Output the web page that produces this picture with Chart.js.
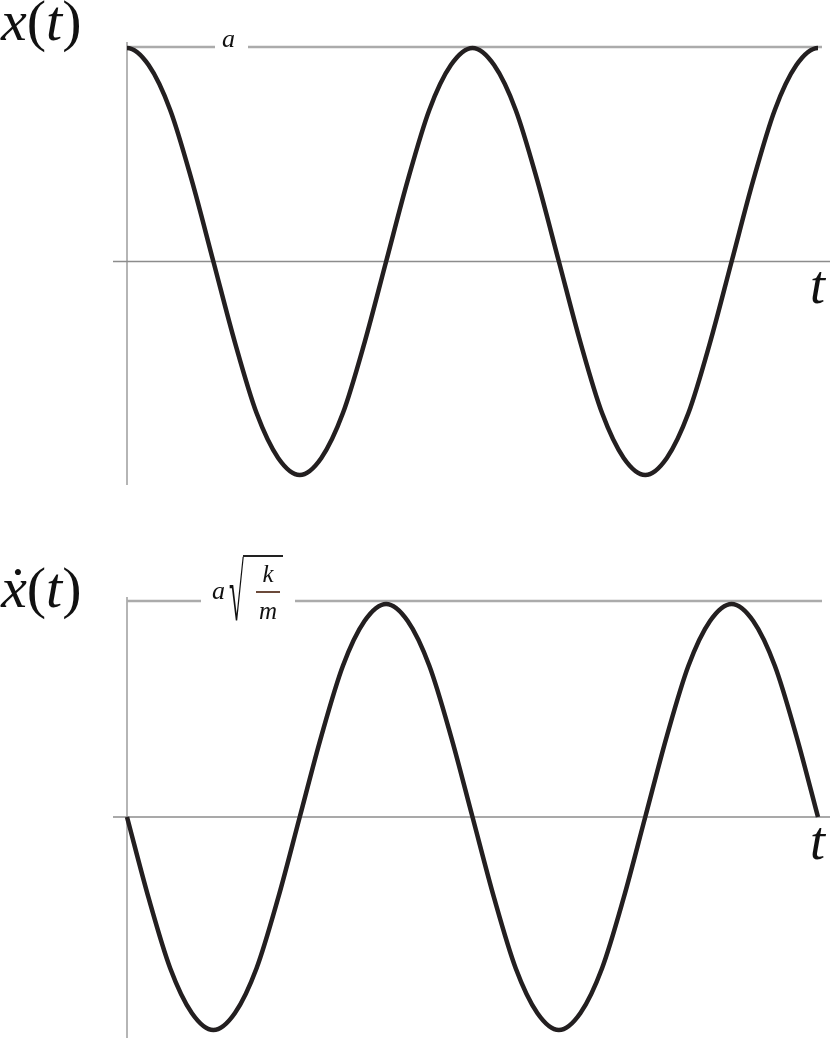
<!DOCTYPE html>
<html>
<head>
<meta charset="utf-8">
<script src="https://cdn.jsdelivr.net/npm/chart.js@4"></script>
<style>
  body { margin: 0; background: #fff; }
  #wrap { position: relative; width: 830px; height: 1040px; overflow: hidden; }
  canvas { position: absolute; left: 0; }
  .lbl { position: absolute; font-family: "Liberation Serif", "DejaVu Serif", serif; color: #111; line-height: 1; white-space: nowrap; }
  .it { font-style: italic; }
  .rule { position: absolute; }
</style>
</head>
<body>
<div id="wrap">
  <canvas id="chartPos" width="830" height="520" style="top:0"></canvas>
  <canvas id="chartVel" width="830" height="520" style="top:520px"></canvas>

  <!-- gráfico de posición -->
  <div class="lbl" style="left:1px; top:-8px; font-size:58px;"><span class="it">x</span>(<span class="it">t</span>)</div>
  <div class="lbl it" style="left:810px; top:258px; font-size:54px;">t</div>
  <div class="lbl it" style="left:222px; top:26px; font-size:26px;">a</div>

  <!-- gráfico de velocidad -->
  <div class="lbl" style="left:1px; top:559px; font-size:58px;"><span class="it">x&#775;</span>(<span class="it">t</span>)</div>
  <div class="lbl it" style="left:810px; top:814px; font-size:54px;">t</div>
  <div class="lbl it" style="left:212px; top:578px; font-size:26px;">a</div>
  <div class="lbl" style="left:229px; top:566px; font-size:60px; transform:scale(0.45,1.333); transform-origin:0 38px;">&#8730;</div>
  <div class="rule" style="left:243px; top:555px; width:40px; height:1.5px; background:#222;"></div>
  <div class="lbl it" style="left:253px; top:561px; width:30px; text-align:center; font-size:25px;">k</div>
  <div class="rule" style="left:256px; top:591px; width:24px; height:1.5px; background:#6b4a3a;"></div>
  <div class="lbl it" style="left:253px; top:598px; width:30px; text-align:center; font-size:25px;">m</div>
</div>

<script>
// tiempo en periodos (16 muestras por periodo, con una muestra extra a cada lado)
const tiempo = [-0.0625, 0, 0.0625, 0.125, 0.1875, 0.25, 0.3125, 0.375, 0.4375,
  0.5, 0.5625, 0.625, 0.6875, 0.75, 0.8125, 0.875, 0.9375,
  1, 1.0625, 1.125, 1.1875, 1.25, 1.3125, 1.375, 1.4375,
  1.5, 1.5625, 1.625, 1.6875, 1.75, 1.8125, 1.875, 1.9375, 2, 2.0625];

// posición x(t), en unidades de a
const posicion = [0.92, 1.00, 0.92, 0.71, 0.38, 0.00, -0.38, -0.71, -0.92,
  -1.00, -0.92, -0.71, -0.38, 0.00, 0.38, 0.71, 0.92,
  1.00, 0.92, 0.71, 0.38, 0.00, -0.38, -0.71, -0.92,
  -1.00, -0.92, -0.71, -0.38, 0.00, 0.38, 0.71, 0.92, 1.00, 0.92];

// velocidad dx/dt, en unidades de a*sqrt(k/m) (la curva empieza y acaba en t = 0 y t = 2)
const velocidad = [null, 0.00, -0.38, -0.71, -0.92, -1.00, -0.92, -0.71, -0.38,
  0.00, 0.38, 0.71, 0.92, 1.00, 0.92, 0.71, 0.38,
  0.00, -0.38, -0.71, -0.92, -1.00, -0.92, -0.71, -0.38,
  0.00, 0.38, 0.71, 0.92, 1.00, 0.92, 0.71, 0.38, 0.00, null];

// Líneas grises: eje vertical, eje t y línea de amplitud
const guias = {
  id: 'guias',
  beforeDatasetsDraw(chart, args, o) {
    const { ctx, chartArea, scales } = chart;
    const x0 = chartArea.left;
    const y0 = scales.y.getPixelForValue(0);
    const yA = scales.y.getPixelForValue(1) + o.ampShift;
    ctx.save();
    ctx.strokeStyle = '#b5b5b5';
    ctx.lineWidth = 2;
    ctx.beginPath();
    ctx.moveTo(x0, o.ejeArriba);
    ctx.lineTo(x0, o.ejeAbajo);
    ctx.stroke();

    ctx.strokeStyle = '#8c8c8c';
    ctx.lineWidth = 1.3;
    ctx.beginPath();
    ctx.moveTo(x0 - 14, y0);
    ctx.lineTo(chart.width, y0);
    ctx.stroke();

    ctx.strokeStyle = '#ababab';
    ctx.lineWidth = 2.6;
    ctx.beginPath();
    ctx.moveTo(x0, yA);
    ctx.lineTo(o.hueco[0], yA);
    ctx.moveTo(o.hueco[1], yA);
    ctx.lineTo(o.finAmp, yA);
    ctx.stroke();
    ctx.restore();
  }
};

function crearGrafico(id, valores, clip, padding, opcGuias) {
  const datos = tiempo.map((t, i) => ({ x: t, y: valores[i] }));
  return new Chart(document.getElementById(id), {
    type: 'line',
    data: {
      datasets: [{
        data: datos,
        borderColor: '#231f20',
        borderWidth: 4.5,
        borderCapStyle: 'butt',
        pointRadius: 0,
        cubicInterpolationMode: 'monotone',
        spanGaps: false,
        clip: clip
      }]
    },
    options: {
      responsive: false,
      animation: false,
      layout: { padding: padding },
      plugins: {
        legend: { display: false },
        tooltip: { enabled: false },
        guias: opcGuias
      },
      scales: {
        x: { type: 'linear', min: 0, max: 2, display: false },
        y: { min: -1, max: 1, display: false }
      }
    },
    plugins: [guias]
  });
}

crearGrafico('chartPos', posicion,
  { left: 0, right: 0, top: 10, bottom: 10 },
  { left: 127, right: 12, top: 48, bottom: 45 },
  { ejeArriba: 42, ejeAbajo: 485, ampShift: -1, hueco: [215, 248], finAmp: 822 });

crearGrafico('chartVel', velocidad,
  false,
  { left: 127, right: 12, top: 84, bottom: 10 },
  { ejeArriba: 77, ejeAbajo: 518, ampShift: -3, hueco: [201, 295], finAmp: 822 });
</script>
</body>
</html>
